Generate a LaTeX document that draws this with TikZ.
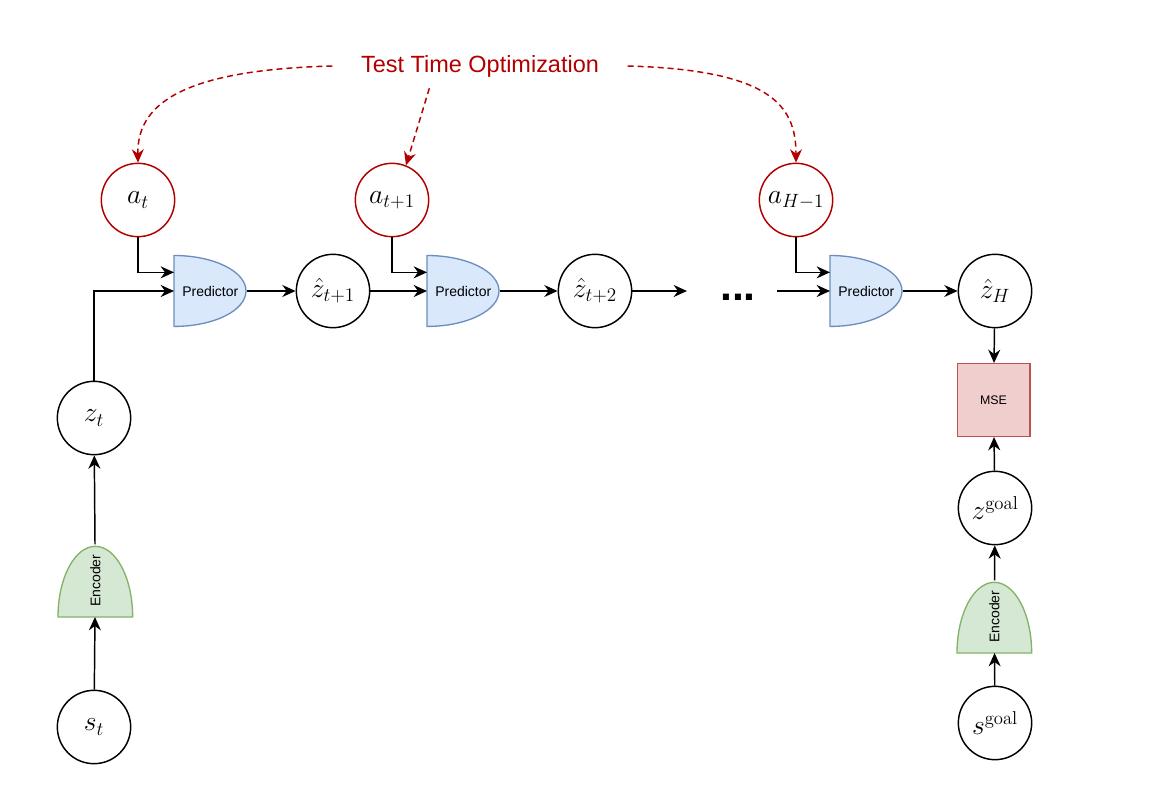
\documentclass[tikz,border=0pt]{standalone}
\usepackage{amsmath}
\usepackage{fontspec}
\setsansfont{Liberation Sans}
\usepackage{tikz}
\usetikzlibrary{arrows.meta}
\definecolor{ttored}{RGB}{178,0,0}
\definecolor{predblue}{RGB}{218,232,252}
\definecolor{predline}{RGB}{108,142,191}
\definecolor{encgreen}{RGB}{213,232,212}
\definecolor{encline}{RGB}{130,179,102}
\definecolor{msered}{RGB}{240,206,206}
\definecolor{mseline}{RGB}{184,84,80}

\begin{document}
\begin{tikzpicture}[x=0.75pt, y=-0.75pt,
    state/.style={circle, draw, line width=1.1pt, minimum size=55pt, inner sep=0pt, font=\fontsize{20}{23}\selectfont},
    action/.style={state, draw=ttored},
    gatebox/.style={minimum width=54pt, minimum height=53pt, inner sep=0pt, font=\sffamily\fontsize{10.5}{12}\selectfont},
    predshape/.style={fill=predblue, draw=predline, line width=1pt},
    encshape/.style={fill=encgreen, draw=encline, line width=1pt},
    arr/.style={-{Stealth[length=10pt, width=9pt]}, line width=1.1pt},
    ttoarr/.style={arr, ttored, dash pattern=on 4.5pt off 3pt}]
    \useasboundingbox (0,0) rectangle (1152,802);

    \node[ttored, font=\sffamily\fontsize{17.6}{20}\selectfont, minimum width=221pt, minimum height=33pt] (tto) at (480,66) {Test Time Optimization};

    \node[action] (at) at (138,200) {$a_t$};
    \node[action] (at1) at (392,200) {$a_{t+1}$};
    \node[action] (ah) at (796,200) {$a_{H-1}$};

    \foreach \x/\n in {174/p1, 427/p2, 830/p3} {
        \filldraw[predshape] (\x,255.5) arc[start angle=90, end angle=-90, x radius=54pt, y radius=26.6pt] -- cycle;
        \node[gatebox, anchor=west] (\n) at (\x,291) {Predictor};
    }
    \foreach \x/\y/\n in {58/617/e1, 957/653/e2} {
        \filldraw[encshape] (\x,\y) arc[start angle=180, end angle=0, x radius=28pt, y radius=53pt] -- cycle;
        \node[gatebox, rotate=90, anchor=west, minimum height=56pt] (\n) at (\x+37.3,\y) {Encoder};
    }

    \node[state] (zh1) at (333,291) {$\hat{z}_{t+1}$};
    \node[state] (zh2) at (595,291) {$\hat{z}_{t+2}$};
    \node[state] (zhH) at (995,291) {$\hat{z}_H$};
    \node[state] (zt) at (94,418) {$z_t$};
    \node[state] (st) at (94,727) {$s_t$};
    \node[state] (zg) at (995,508) {$z^{\mathrm{goal}}$};
    \node[state] (sg) at (995,723) {$s^{\mathrm{goal}}$};
    \node[draw=mseline, fill=msered, line width=1pt, minimum size=54.5pt, font=\sffamily\fontsize{9.3}{11}\selectfont] (mse) at (993.5,400) {MSE};

    \node[font=\sffamily\bfseries\fontsize{32}{36}\selectfont, anchor=base] (dots) at (738,300) {...};
    \coordinate (gapL) at (687,291);
    \coordinate (gapR) at (777,291);

    \draw[arr] (at) |- ([yshift=14pt]p1.west);
    \draw[arr] (zt) |- (p1);
    \draw[arr] (p1) -- (zh1);
    \draw[arr] (zh1) -- (p2);
    \draw[arr] (at1) |- ([yshift=14pt]p2.west);
    \draw[arr] (p2) -- (zh2);
    \draw[arr] (zh2) -- (gapL);
    \draw[arr] (gapR) -- (p3);
    \draw[arr] (ah) |- ([yshift=14pt]p3.west);
    \draw[arr] (p3) -- (zhH);
    \draw[arr] (zhH) -- (mse);
    \draw[arr] (zg) -- (mse);
    \draw[arr] (e2) -- (zg);
    \draw[arr] (sg) -- (e2);
    \draw[arr] (st) -- (e1);
    \draw[arr] (e1) -- (zt);

    \draw[ttoarr] (tto.west) .. controls (180,70) and (137,105) .. (at.north);
    \draw[ttoarr] ([xshift=-38pt]tto.south) -- (at1.68);
    \draw[ttoarr] (tto.east) .. controls (770,70) and (796,105) .. (ah.north);
\end{tikzpicture}
\end{document}
